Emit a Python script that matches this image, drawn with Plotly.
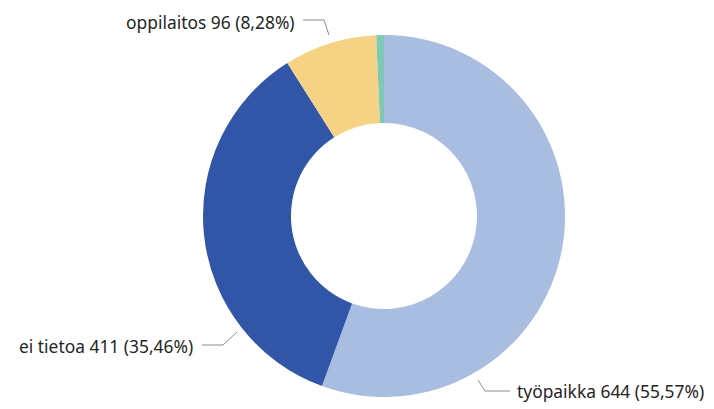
import plotly.graph_objects as go

categories = ["työpaikka", "ei tietoa", "oppilaitos", "muu"]
values = [644, 411, 96, 8]
colors = ["#A8BDE0", "#3156A8", "#F6D285", "#7DC9B4"]
show_label = [True, True, True, False]

W, H = 714, 409
OFF = 8  # default page body margin
total = sum(values)

def px(x):
    return (x - OFF) / W

def py(y):
    return 1 - (y - OFF) / H

fig = go.Figure(go.Pie(
    labels=categories,
    values=values,
    hole=0.514,
    sort=False,
    direction="clockwise",
    rotation=0,
    marker=dict(colors=colors, line=dict(width=0)),
    textinfo="none",
    hoverinfo="label+value+percent",
    showlegend=False,
    domain=dict(x=[px(203), px(565)], y=[py(397), py(35)]),
))

# label layout: (text anchor x, y, xanchor, leader path points)
label_layout = {
    "työpaikka": (515, 391, "left", [(478, 380), (485, 391), (510, 391)]),
    "ei tietoa": (195, 346, "right", [(237, 332), (223, 345), (202, 345)]),
    "oppilaitos": (297, 22, "right", [(329, 35), (324, 20), (303, 20)]),
}

annotations = []
shapes = []
for cat, val, show in zip(categories, values, show_label):
    if not show:
        continue
    pct = f"{val / total * 100:.2f}".replace(".", ",")
    tx, ty, anchor, pts = label_layout[cat]
    annotations.append(dict(
        text=f"{cat} {val} ({pct}%)",
        x=px(tx), y=py(ty), xref="paper", yref="paper",
        xanchor=anchor, yanchor="middle", showarrow=False,
        font=dict(family="Noto Sans, Open Sans, sans-serif", size=17.4, color="#252423"),
    ))
    path = "M " + " L ".join(f"{px(a)},{py(b)}" for a, b in pts)
    shapes.append(dict(type="path", xref="paper", yref="paper", path=path,
                       line=dict(color="#8c8c8c", width=1)))

fig.update_layout(
    width=W, height=H,
    margin=dict(l=0, r=0, t=0, b=0),
    paper_bgcolor="white",
    plot_bgcolor="white",
    annotations=annotations,
    shapes=shapes,
)

fig.write_html("out.html")
